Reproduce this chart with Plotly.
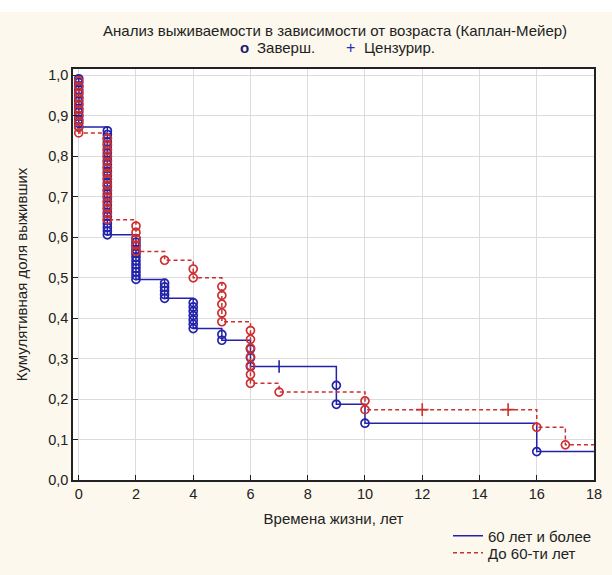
import plotly.graph_objects as go

# ---------------- data (years, counts) ----------------
# group "60 лет и более"
old_n0 = 109
old_times = [0, 1, 2, 3, 4, 5, 6, 7, 9, 10, 16]
old_deaths = [14, 29, 12, 5, 7, 2, 3, 0, 2, 1, 1]
old_censored = [0, 0, 1, 6, 9, 8, 6, 1, 0, 1, 0]

# group "До 60-ти лет"
young_n0 = 70
young_times = [0, 1, 2, 3, 4, 5, 6, 7, 10, 12, 15, 16, 17]
young_deaths = [10, 15, 5, 1, 2, 5, 7, 1, 2, 0, 0, 1, 1]
young_censored = [0, 4, 10, 0, 0, 0, 0, 0, 0, 2, 2, 0, 0]

x_ticks = [0, 2, 4, 6, 8, 10, 12, 14, 16, 18]
y_ticks = [0.0, 0.1, 0.2, 0.3, 0.4, 0.5, 0.6, 0.7, 0.8, 0.9, 1.0]
x_end = 18

title_text = "Анализ выживаемости в зависимости от возраста (Каплан-Мейер)"
x_title = "Времена жизни, лет"
y_title = "Кумулятивная доля выживших"
old_name = "60 лет и более"
young_name = "До 60-ти лет"

BLUE = "#2222aa"
RED = "#cc3030"
TXT = "#222222"
FONT = "Liberation Sans, Arial, sans-serif"
FS = 15


def kaplan_meier(n0, times, deaths, censored, t_end):
    n = n0
    s = 1.0
    lx, ly = [0], [1.0]
    cx, cy, px, py = [], [], [], []
    for t, d, c in zip(times, deaths, censored):
        s_prev = s
        for k in range(1, d + 1):
            cx.append(t)
            cy.append(s_prev * (n - k) / n)
        if d:
            s = s_prev * (n - d) / n
            lx.append(t)
            ly.append(s)
        # a censor mark is only visible where no death shares the time
        if c and not d and t <= t_end:
            px.append(t)
            py.append(s)
        n -= d + c
    lx.append(t_end)
    ly.append(s)
    return lx, ly, cx, cy, px, py


o_lx, o_ly, o_cx, o_cy, o_px, o_py = kaplan_meier(old_n0, old_times, old_deaths, old_censored, x_end)
y_lx, y_ly, y_cx, y_cy, y_px, y_py = kaplan_meier(young_n0, young_times, young_deaths, young_censored, x_end)

fig = go.Figure()

# censored marks
fig.add_trace(go.Scatter(x=o_px, y=o_py, mode="markers", showlegend=False, hoverinfo="skip",
                         marker=dict(symbol="line-ns", size=9, color=BLUE,
                                     line=dict(color=BLUE, width=1.6))))
fig.add_trace(go.Scatter(x=y_px, y=y_py, mode="markers", showlegend=False, hoverinfo="skip",
                         marker=dict(symbol="cross-thin", size=9, color=RED,
                                     line=dict(color=RED, width=1.6))))

# step lines
fig.add_trace(go.Scatter(x=o_lx, y=o_ly, mode="lines", name=old_name, line_shape="hv",
                         line=dict(color=BLUE, width=1.5), legend="legend"))
fig.add_trace(go.Scatter(x=y_lx, y=y_ly, mode="lines", name=young_name, line_shape="hv",
                         line=dict(color=RED, width=1.5, dash="4px,3px"), legend="legend2"))

# completed (death) markers
fig.add_trace(go.Scatter(x=o_cx, y=o_cy, mode="markers", showlegend=False, hoverinfo="skip",
                         marker=dict(symbol="circle-open", size=8, color=BLUE, line=dict(width=1.7))))
fig.add_trace(go.Scatter(x=y_cx, y=y_cy, mode="markers", showlegend=False, hoverinfo="skip",
                         marker=dict(symbol="circle-open", size=8, color=RED, line=dict(width=1.7))))

# geometry of the plot area in pixels
L, R, T, B = 73, 18, 69, 95
W, H = 612, 575
pw, ph = W - L - R, H - T - B


def px_x(x):
    return (x - L) / pw


def px_y(y):
    return (H - B - y) / ph


annotations = [
    dict(text=title_text, x=px_x(335), y=px_y(30), xref="paper", yref="paper", showarrow=False,
         xanchor="center", yanchor="middle", font=dict(size=FS, color=TXT, family=FONT)),
    dict(text="<b>o</b>", x=px_x(244), y=px_y(47), xref="paper", yref="paper", showarrow=False,
         xanchor="center", yanchor="middle", font=dict(size=15, color="#1c1c70", family=FONT)),
    dict(text="Заверш.", x=px_x(255), y=px_y(48), xref="paper", yref="paper", showarrow=False,
         xanchor="left", yanchor="middle", font=dict(size=FS, color=TXT, family=FONT)),
    dict(text="+", x=px_x(350), y=px_y(47), xref="paper", yref="paper", showarrow=False,
         xanchor="center", yanchor="middle", font=dict(size=16, color="#2a2ab8", family=FONT)),
    dict(text="Цензурир.", x=px_x(362), y=px_y(48), xref="paper", yref="paper", showarrow=False,
         xanchor="left", yanchor="middle", font=dict(size=FS, color=TXT, family=FONT)),
]

shapes = [
    dict(type="rect", xref="paper", yref="paper", x0=px_x(0), x1=px_x(W), y0=px_y(12), y1=px_y(0),
         fillcolor="white", line=dict(width=0), layer="below"),
]

legend_common = dict(xanchor="left", yanchor="middle", bgcolor="rgba(0,0,0,0)",
                     font=dict(size=FS, family=FONT, color=TXT), itemwidth=30)

fig.update_layout(
    width=W, height=H,
    margin=dict(l=L, r=R, t=T, b=B, pad=0, autoexpand=False),
    paper_bgcolor="#fcf8ed",
    plot_bgcolor="white",
    separators=", ",
    font=dict(family=FONT, size=FS, color=TXT),
    annotations=annotations,
    shapes=shapes,
    showlegend=True,
    legend=dict(x=px_x(448), y=px_y(536), **legend_common),
    legend2=dict(x=px_x(448), y=px_y(553), **legend_common),
)

fig.update_xaxes(
    range=[-0.2, 18], tickvals=x_ticks, ticktext=[str(v) for v in x_ticks],
    showgrid=True, gridcolor="#dcdcdc", gridwidth=1, zeroline=False,
    showline=True, linecolor=TXT, linewidth=1.5, mirror=True,
    ticks="inside", ticklen=5, tickcolor=TXT, automargin=False,
    title=dict(text=x_title, font=dict(size=FS, family=FONT, color=TXT), standoff=12),
    tickfont=dict(size=14.5, family=FONT, color=TXT),
)
fig.update_yaxes(
    range=[0, 1.015], tickvals=y_ticks, tickformat=".1f",
    showgrid=True, gridcolor="#dcdcdc", gridwidth=1, zeroline=False,
    showline=True, linecolor=TXT, linewidth=1.5, mirror=True,
    ticks="inside", ticklen=5, tickcolor=TXT, automargin=False,
    title=dict(text=y_title, font=dict(size=FS, family=FONT, color=TXT), standoff=17),
    tickfont=dict(size=14.5, family=FONT, color=TXT),
)

fig.write_html("out.html", config={"displayModeBar": False},
               post_script="document.body.style.margin='0';")
